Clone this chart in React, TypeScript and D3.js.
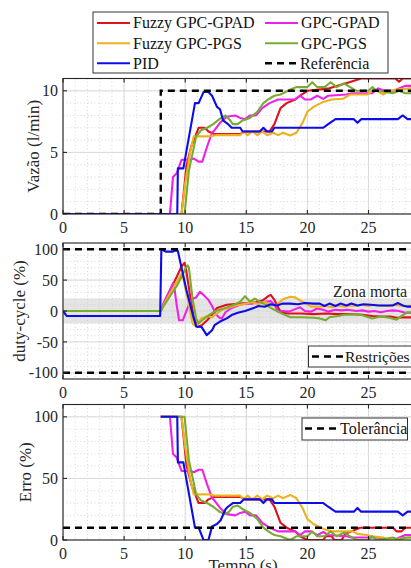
import * as d3 from "d3";

type P = [number, number];

// ---------- axes / ticks ----------
const T_MAX = 30;
const xTicks = [0, 5, 10, 15, 20, 25, 30];
const flowTicks = [0, 5, 10];
const dutyTicks = [-100, -50, 0, 50, 100];
const errTicks = [0, 50, 100];

const seriesNames = ["Fuzzy GPC-GPAD", "GPC-GPAD", "Fuzzy GPC-PGS", "GPC-PGS", "PID"];
const seriesColors = ["#e0101c", "#ee22e6", "#edb120", "#77ac30", "#0c0ce8"];

// ---------- panel 1: Vazão (l/min) ----------
const refFlow: P[] = [[0, 0], [8, 0], [8, 10], [30, 10]];
const redFlow: P[] = [[0, 0], [9.7, 0], [10.1, 3.9], [10.5, 5.5], [11.1, 7.0], [11.6, 7.0], [11.9, 6.7], [12.4, 6.5], [14.5, 6.5], [14.9, 6.7], [16.9, 6.7], [17.3, 7.3], [17.8, 8.6], [18.3, 9.0], [19.0, 9.3], [19.4, 9.6], [20.0, 10.0], [21.8, 10.2], [22.4, 10.4], [23.1, 10.6], [24.4, 11.0], [27.2, 11.0], [27.5, 10.75], [27.8, 11.0], [30, 11.0]];
const magentaFlow: P[] = [[0, 0], [8.75, 0], [9.0, 3.0], [9.3, 3.3], [9.7, 4.4], [10.4, 4.4], [10.7, 4.5], [11.1, 4.25], [11.4, 4.25], [11.8, 5.5], [12.2, 6.6], [12.4, 6.8], [12.85, 7.4], [13.4, 7.9], [14.1, 8.0], [14.5, 7.8], [14.9, 7.7], [15.3, 8.0], [15.8, 8.0], [16.3, 8.6], [16.9, 9.0], [17.6, 9.3], [19.0, 9.3], [19.4, 9.6], [19.8, 9.3], [20.3, 9.3], [20.8, 9.6], [21.3, 9.35], [21.7, 9.6], [23.2, 9.7], [23.6, 9.8], [25.3, 9.8], [25.8, 10.2], [26.3, 10.0], [27.0, 10.0], [27.3, 10.1], [28.0, 10.4], [30, 10.4]];
const orangeFlow: P[] = [[0, 0], [9.7, 0], [10.0, 2.5], [10.4, 5.0], [10.7, 6.3], [12.0, 6.3], [12.5, 6.4], [14.5, 6.4], [14.8, 6.7], [15.1, 6.4], [15.5, 6.7], [15.9, 6.4], [16.3, 6.7], [16.7, 6.4], [17.2, 6.6], [17.6, 6.4], [18.0, 6.6], [18.6, 6.37], [19.1, 6.6], [19.6, 7.4], [20.0, 8.3], [20.5, 8.7], [21.3, 9.1], [22.0, 9.3], [22.9, 9.35], [23.5, 9.7], [24.9, 9.7], [25.3, 10.0], [25.7, 10.0], [26.2, 9.7], [26.7, 10.0], [27.3, 10.1], [28.4, 10.2], [30, 10.2]];
const greenFlow: P[] = [[0, 0], [9.95, 0], [10.3, 3.5], [10.9, 6.3], [11.3, 6.8], [11.8, 7.0], [12.3, 7.3], [12.8, 7.7], [13.3, 8.0], [13.6, 7.7], [13.9, 7.3], [14.3, 7.3], [14.7, 7.6], [15.3, 7.8], [15.9, 8.3], [16.4, 9.0], [16.8, 9.3], [17.3, 9.6], [17.8, 9.7], [18.6, 10.1], [19.1, 10.3], [20.0, 10.3], [20.4, 10.7], [20.8, 10.3], [21.4, 10.3], [21.9, 10.7], [22.4, 10.3], [23.0, 10.6], [23.5, 10.3], [24.0, 10.0], [25.0, 10.0], [25.3, 10.3], [25.7, 10.0], [27.0, 9.8], [27.5, 10.0], [28.0, 9.8], [30, 9.8]];
const pidFlow: P[] = [[0, 0], [9.35, 0], [9.4, 3.7], [9.85, 3.7], [10.8, 9.0], [11.1, 9.0], [11.5, 9.9], [11.9, 9.9], [12.2, 9.6], [12.6, 8.7], [12.85, 8.5], [13.1, 7.6], [13.5, 7.3], [13.8, 7.0], [14.5, 7.0], [14.7, 6.7], [16.1, 6.7], [16.4, 7.0], [16.7, 6.7], [17.1, 6.7], [17.3, 7.0], [21.3, 7.0], [21.7, 7.3], [22.3, 7.7], [23.8, 7.7], [24.1, 7.4], [24.4, 7.7], [27.4, 7.7], [27.8, 8.0], [28.2, 7.7], [30, 7.7]];

// ---------- panel 2: duty-cycle (%) ----------
const dutyLimits = [-100, 100];
const deadZone = [-20, 20];
const redDuty: P[] = [[0, 0], [8.0, 0], [8.3, 15], [8.8, 35], [9.3, 55], [9.7, 72], [9.95, 78], [10.05, 70], [10.4, 25], [10.7, -10], [11.0, -26], [11.35, -23], [11.8, -15], [12.2, -6], [12.6, 5], [13.4, 10], [14.5, 12], [15.8, 14], [16.4, 18], [16.8, 24], [17.0, 26], [17.3, 18], [17.7, 2], [18.0, -3], [18.5, -4], [19.5, -4], [20.5, -5], [21.5, -4], [22.5, -5], [23.5, -5], [24.5, -6], [25.3, -8], [26.0, -9], [26.8, -9], [27.3, -11], [28.0, -10], [30, -11]];
const magentaDuty: P[] = [[0, 0], [8.0, 0], [8.3, 15], [8.7, 32], [9.0, 45], [9.1, 40], [9.3, 10], [9.5, -15], [9.8, -15], [10.0, -5], [10.3, 10], [10.6, 20], [10.9, 22], [11.2, 31], [11.5, 26], [11.9, 18], [12.2, 8], [12.5, -5], [12.8, -11], [13.0, -12], [13.3, -2], [13.8, 5], [14.5, 10], [15.0, 12], [15.5, 12], [16.0, 14], [16.5, 15], [17.0, 16], [17.3, 10], [17.6, -1], [18.0, 0], [18.5, -1], [19.0, 3], [19.4, 6], [19.8, 0], [20.3, -1], [20.8, 4], [21.3, 2], [21.7, -1], [22.3, 2], [22.8, 1], [23.3, 2], [24.0, 0], [24.5, 1], [25.0, -1], [25.5, 0], [26.0, -2], [26.5, 0], [27.0, 1], [27.5, 0], [28.0, -3], [30, -2]];
const orangeDuty: P[] = [[0, 0], [8.0, 0], [8.3, 12], [8.8, 30], [9.3, 47], [9.7, 60], [9.8, 56], [10.2, 20], [10.6, -20], [10.9, -25], [11.3, -12], [11.8, -8], [12.2, -10], [12.6, -4], [13.0, 2], [13.5, 5], [14.0, 8], [14.5, 10], [15.0, 12], [15.5, 14], [16.0, 11], [16.5, 15], [17.0, 9], [17.5, 10], [18.0, 19], [18.6, 23], [19.0, 22], [19.4, 17], [19.9, 12], [20.3, 7], [21.0, 7], [21.5, 8], [22.0, 6], [22.5, 9], [23.0, 7], [23.5, 9], [24.0, 8], [24.5, 10], [25.0, 8], [25.5, 10], [26.0, 9], [26.5, 8], [27.0, 10], [27.5, 9], [28.0, 8], [30, 9]];
const greenDuty: P[] = [[0, 0], [8.0, 0], [8.3, 10], [8.8, 25], [9.3, 40], [9.7, 55], [10.0, 68], [10.2, 74], [10.3, 70], [10.6, 20], [10.9, -12], [11.1, -20], [11.4, -15], [12.0, -6], [12.5, 0], [13.3, 5], [14.0, 10], [14.5, 15], [14.9, 24], [15.3, 15], [15.7, 20], [16.2, 14], [16.6, 10], [17.0, 5], [17.5, 0], [18.0, -5], [18.6, -10], [19.5, -10], [20.5, -11], [21.0, -12], [21.5, -15], [21.8, -10], [22.5, -8], [23.0, -6], [24.0, -5], [24.5, -7], [25.3, -12], [26.0, -9], [26.7, -11], [27.3, -14], [27.7, -8], [28.2, -2], [30, -4]];
const pidDuty: P[] = [[0, 0], [0.3, -8], [7.95, -8], [8.05, 100], [8.4, 96], [9.0, 96], [9.2, 98], [9.4, 97], [10.1, 34], [10.7, -12], [10.9, -25], [11.35, -26], [11.76, -39], [12.2, -31], [12.4, -23], [12.85, -17], [13.4, -12], [13.8, -6.5], [14.3, -3], [14.9, 0], [15.6, 5], [16.0, 8], [16.5, 7], [17.0, 11], [17.5, 9], [18.0, 12], [18.6, 12], [19.2, 11], [19.8, 13], [20.5, 12], [21.0, 12], [21.4, 8], [21.8, 12], [22.3, 8], [22.7, 12], [23.2, 9], [23.6, 12], [24.1, 9], [24.6, 11], [25.2, 10], [25.8, 9], [26.4, 9], [27.0, 9], [27.4, 13], [27.8, 9], [28.2, 7], [30, 8]];

// ---------- panel 3: Erro (%) ----------
const tolerance = 10;
const redErr: P[] = [[8, 100], [9.7, 100], [10.1, 61], [10.5, 45], [11.1, 30], [11.6, 30], [11.9, 33], [12.4, 35], [14.5, 35], [14.9, 33], [16.9, 33], [17.3, 27], [17.8, 14], [18.3, 10], [19.0, 7], [19.4, 3], [20.0, 0], [21.3, 0], [21.5, 3], [22.0, 3], [22.2, 0], [22.8, 0], [23.1, 5], [23.6, 7], [24.3, 10], [27.0, 10], [27.3, 7], [27.7, 7], [28.0, 10], [30, 10]];
const magentaErr: P[] = [[8, 100], [8.75, 100], [9.0, 70], [9.3, 67], [9.7, 56], [10.4, 56], [10.7, 55], [11.1, 57], [11.4, 57], [11.8, 45], [12.2, 34], [12.4, 32], [12.85, 26], [13.4, 21], [14.1, 20], [14.5, 22], [14.9, 23], [15.3, 20], [15.8, 20], [16.3, 14], [16.9, 10], [17.6, 7], [19.0, 7], [19.4, 4], [19.8, 7], [20.3, 7], [20.8, 4], [21.3, 6.5], [21.7, 4], [23.2, 3], [23.6, 2], [25.3, 2], [25.8, 2], [26.3, 0], [27.0, 0], [27.3, 1], [28.0, 4], [30, 4]];
const orangeErr: P[] = [[8, 100], [9.7, 100], [10.0, 75], [10.4, 50], [10.7, 37], [12.0, 37], [12.5, 36], [14.5, 36], [14.8, 33], [15.1, 36], [15.5, 33], [15.9, 36], [16.3, 33], [16.7, 36], [17.2, 34], [17.6, 36], [18.0, 34], [18.6, 36.5], [19.1, 34], [19.6, 26], [20.0, 17], [20.5, 13], [21.3, 9], [22.0, 7], [23.7, 7], [24.1, 5], [24.8, 4], [25.3, 3], [26.2, 2], [26.7, 0], [27.5, 1], [28.4, 2], [30, 2]];
const greenErr: P[] = [[8, 100], [9.95, 100], [10.3, 65], [10.9, 37], [11.3, 32], [11.8, 30], [12.3, 27], [12.8, 23], [13.3, 21], [13.6, 23], [13.9, 27], [14.3, 28], [14.7, 25], [15.3, 22], [15.9, 17], [16.4, 10], [16.8, 7], [17.3, 4], [17.8, 3], [18.6, 0], [19.1, 3], [20.0, 3], [20.4, 7], [20.8, 3], [21.4, 3], [21.9, 7], [22.4, 3], [23.0, 6], [23.5, 3], [24.0, 0], [25.0, 0], [25.3, 3], [25.7, 0], [27.0, 2], [27.5, 0], [28.0, 2], [30, 2]];
const pidErr: P[] = [[8, 100], [9.35, 100], [9.4, 63], [9.85, 63], [10.8, 10], [11.1, 10], [11.5, 0], [11.9, 0], [12.2, 11], [12.6, 13], [12.9, 16], [13.3, 25], [13.5, 27], [13.9, 30], [14.5, 30], [14.8, 33], [16.1, 33], [16.4, 30], [16.7, 33], [17.1, 33], [17.3, 30], [21.3, 30], [21.7, 27], [22.3, 23], [23.8, 23], [24.1, 26], [24.4, 23], [27.4, 23], [27.8, 20], [28.2, 23], [30, 23]];

// ---------- layout ----------
const W = 411;
const H = 568;
const X0 = 63;
const X1 = 63 + 12.22 * T_MAX;
const FONT = "'Liberation Serif', 'DejaVu Serif', serif";

const x = d3.scaleLinear().domain([0, T_MAX]).range([X0, X1]);
const xMinor = d3.range(0, T_MAX + 0.001, 1);
const xLabelTicks = xTicks.filter((t) => x(t) + 10 < W);

type Panel = {
  id: string;
  top: number;
  bottom: number;
  domain: [number, number];
  ticks: number[];
  minorStep: number;
  label: string;
  labelX: number;
  series: P[][];
};

const panels: Panel[] = [
  { id: "p1", top: 78.5, bottom: 214, domain: [0, 11], ticks: flowTicks, minorStep: 1, label: "Vazão (l/min)", labelX: 33, series: [redFlow, magentaFlow, orangeFlow, greenFlow, pidFlow] },
  { id: "p2", top: 243, bottom: 379, domain: [-110, 110], ticks: dutyTicks, minorStep: 10, label: "duty-cycle (%)", labelX: 19, series: [redDuty, magentaDuty, orangeDuty, greenDuty, pidDuty] },
  { id: "p3", top: 404.5, bottom: 540, domain: [0, 110], ticks: errTicks, minorStep: 10, label: "Erro (%)", labelX: 25, series: [redErr, magentaErr, orangeErr, greenErr, pidErr] },
];

function PanelView({ p }: { p: Panel }) {
  const y = d3.scaleLinear().domain(p.domain).range([p.bottom, p.top]);
  const line = d3.line<P>().x((d) => x(d[0])).y((d) => y(d[1]));
  const yMinor = d3.range(p.domain[0], p.domain[1] + 0.001, p.minorStep);
  const dashed = { stroke: "#000", strokeWidth: 2.4, strokeDasharray: "7,5", fill: "none" };
  return (
    <g>
      <defs>
        <clipPath id={"clip-" + p.id}>
          <rect x={X0} y={p.top} width={X1 - X0} height={p.bottom - p.top} />
        </clipPath>
      </defs>
      <rect x={X0} y={p.top} width={X1 - X0} height={p.bottom - p.top} fill="#fff" />
      {p.id === "p2" && (
        <rect x={X0} y={y(deadZone[1])} width={X1 - X0} height={y(deadZone[0]) - y(deadZone[1])} fill="#e4e4e4" />
      )}
      {/* minor grid */}
      {xMinor.map((t) => (
        <line key={"xm" + t} x1={x(t)} x2={x(t)} y1={p.top} y2={p.bottom} stroke="#c8c8c8" strokeWidth={0.7} strokeDasharray="1,2.5" />
      ))}
      {yMinor.map((v) => (
        <line key={"ym" + v} x1={X0} x2={X1} y1={y(v)} y2={y(v)} stroke="#c8c8c8" strokeWidth={0.7} strokeDasharray="1,2.5" />
      ))}
      {/* major grid */}
      {xTicks.map((t) => (
        <line key={"xg" + t} x1={x(t)} x2={x(t)} y1={p.top} y2={p.bottom} stroke="#dadada" strokeWidth={1} />
      ))}
      {p.ticks.map((v) => (
        <line key={"yg" + v} x1={X0} x2={X1} y1={y(v)} y2={y(v)} stroke="#dadada" strokeWidth={1} />
      ))}
      <g clipPath={`url(#clip-${p.id})`}>
        {p.series.map((s, i) => (
          <path key={i} d={line(s) || ""} fill="none" stroke={seriesColors[i]} strokeWidth={2.1} strokeLinejoin="round" />
        ))}
        {p.id === "p1" && <path d={line(refFlow) || ""} {...dashed} />}
        {p.id === "p2" &&
          dutyLimits.map((v) => <line key={"lim" + v} x1={X0} x2={X1} y1={y(v)} y2={y(v)} {...dashed} />)}
        {p.id === "p3" && <line x1={X0} x2={X1} y1={y(tolerance)} y2={y(tolerance)} {...dashed} />}
      </g>
      {/* frame + inward ticks */}
      <rect x={X0} y={p.top} width={X1 - X0} height={p.bottom - p.top} fill="none" stroke="#262626" strokeWidth={1.1} />
      {xTicks.map((t) => (
        <g key={"xt" + t}>
          <line x1={x(t)} x2={x(t)} y1={p.bottom} y2={p.bottom - 4} stroke="#262626" strokeWidth={1.1} />
          <line x1={x(t)} x2={x(t)} y1={p.top} y2={p.top + 4} stroke="#262626" strokeWidth={1.1} />
        </g>
      ))}
      {xLabelTicks.map((t) => (
        <text key={"xl" + t} x={x(t)} y={p.bottom + 18.5} textAnchor="middle" fontSize={16} fontFamily={FONT} fill="#262626">
          {t}
        </text>
      ))}
      {p.ticks.map((v) => (
        <g key={"yt" + v}>
          <line x1={X0} x2={X0 + 4} y1={y(v)} y2={y(v)} stroke="#262626" strokeWidth={1.1} />
          <text x={58} y={y(v)} dy="0.35em" textAnchor="end" fontSize={16} fontFamily={FONT} fill="#262626">
            {v}
          </text>
        </g>
      ))}
      <text
        transform={`translate(${p.labelX},${(p.top + p.bottom) / 2}) rotate(-90)`}
        textAnchor="middle"
        dy="0.35em"
        fontSize={17}
        fontFamily={FONT}
        fill="#262626"
      >
        {p.label}
      </text>
    </g>
  );
}

export default function App() {
  const legendRows = [23, 43.3, 63.3];
  const legendItems = [
    { name: seriesNames[0], color: seriesColors[0], col: 0, row: 0 },
    { name: seriesNames[1], color: seriesColors[1], col: 1, row: 0 },
    { name: seriesNames[2], color: seriesColors[2], col: 0, row: 1 },
    { name: seriesNames[3], color: seriesColors[3], col: 1, row: 1 },
    { name: seriesNames[4], color: seriesColors[4], col: 0, row: 2 },
  ];
  const colX = [97, 265];
  const p2y = d3.scaleLinear().domain(panels[1].domain).range([panels[1].bottom, panels[1].top]);
  return (
    <svg
      width={W}
      height={H}
      viewBox={`0 0 ${W} ${H}`}
      style={{ position: "absolute", left: 0, top: 0, background: "#fff" }}
    >
      <rect x={0} y={0} width={W} height={H} fill="#fff" />
      {panels.map((p) => (
        <PanelView key={p.id} p={p} />
      ))}

      {/* main legend */}
      <rect x={93} y={12} width={295} height={61} fill="#fff" stroke="#333" strokeWidth={1} />
      {legendItems.map((it) => (
        <g key={it.name}>
          <line x1={colX[it.col]} x2={colX[it.col] + 33} y1={legendRows[it.row]} y2={legendRows[it.row]} stroke={it.color} strokeWidth={2.1} />
          <text x={colX[it.col] + 36} y={legendRows[it.row]} dy="0.33em" fontSize={16} fontFamily={FONT} fill="#111">
            {it.name}
          </text>
        </g>
      ))}
      <line x1={265} x2={298} y1={legendRows[2]} y2={legendRows[2]} stroke="#000" strokeWidth={2.4} strokeDasharray="7,5" />
      <text x={300} y={legendRows[2]} dy="0.33em" fontSize={16} fontFamily={FONT} fill="#111">
        Referência
      </text>

      {/* dead zone label */}
      <text x={333} y={p2y(31)} dy="0.35em" fontSize={16} fontFamily={FONT} fill="#222">
        Zona morta
      </text>

      {/* restrições legend */}
      <rect x={308.5} y={346} width={120} height={21} fill="#fff" stroke="#333" strokeWidth={1} />
      <line x1={312} x2={343} y1={356.5} y2={356.5} stroke="#000" strokeWidth={2.4} strokeDasharray="7,5" />
      <text x={345} y={356.5} dy="0.33em" fontSize={15.5} fontFamily={FONT} fill="#111">
        Restrições
      </text>

      {/* tolerância legend */}
      <rect x={302} y={418} width={105.5} height={22} fill="#fff" stroke="#333" strokeWidth={1} />
      <line x1={305} x2={337} y1={428.5} y2={428.5} stroke="#000" strokeWidth={2.4} strokeDasharray="7,5" />
      <text x={340} y={428.5} dy="0.33em" fontSize={16} fontFamily={FONT} fill="#111">
        Tolerância
      </text>

      <text x={243} y={571} textAnchor="middle" fontSize={17} fontFamily={FONT} fill="#262626">
        Tempo (s)
      </text>
    </svg>
  );
}
